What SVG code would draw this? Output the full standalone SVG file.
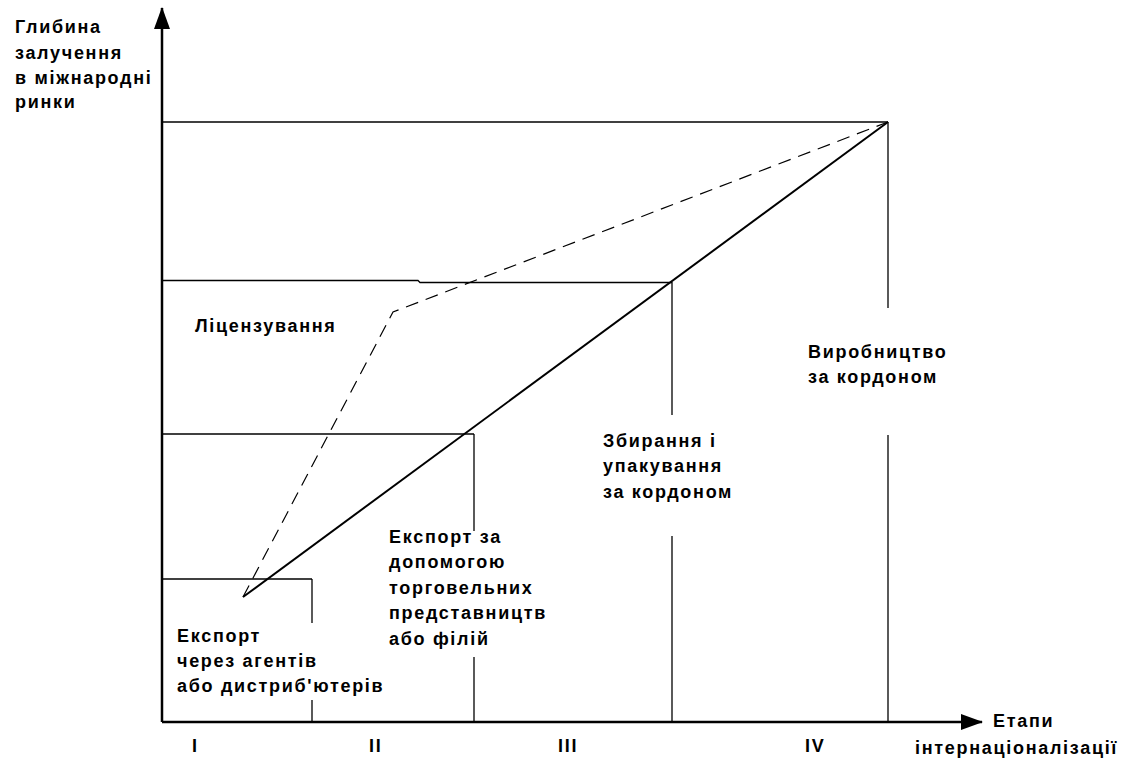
<svg xmlns="http://www.w3.org/2000/svg" width="1140" height="765" viewBox="0 0 1140 765">
<style>
.t{font-family:"Liberation Sans",Arial,sans-serif;font-weight:bold;font-size:18px;letter-spacing:1.7px;fill:#000}
.ln{stroke:#000;stroke-width:1.3;fill:none}
.ax{stroke:#000;stroke-width:2.5;fill:none}
.diag{stroke:#000;stroke-width:2;fill:none}
.dash{stroke:#000;stroke-width:1.2;fill:none;stroke-dasharray:13 8}
</style>
<defs>
<marker id="arrB" markerWidth="22" markerHeight="16" refX="21" refY="8" orient="auto" markerUnits="userSpaceOnUse" viewBox="0 0 22 16">
<path d="M0,0 L22,8 L0,16 Z" fill="#000"/>
</marker>
</defs>
<rect width="1140" height="765" fill="#fff"/>
<g id="connectors">
<line class="ax" x1="162" y1="722" x2="162" y2="8" marker-end="url(#arrB)"/>
<line class="ax" x1="162" y1="722" x2="982" y2="722" marker-end="url(#arrB)"/>
<line class="ln" x1="162" y1="122" x2="888" y2="122"/>
<polyline class="ln" points="162,280.5 418,280.5 420,282.5 672,282.5"/>
<line class="ln" x1="162" y1="434" x2="474" y2="434"/>
<line class="ln" x1="162" y1="579" x2="312" y2="579"/>
<line class="ln" x1="312" y1="579" x2="312" y2="623"/>
<line class="ln" x1="312" y1="700" x2="312" y2="722"/>
<line class="ln" x1="474" y1="434" x2="474" y2="531"/>
<line class="ln" x1="474" y1="657" x2="474" y2="722"/>
<line class="ln" x1="672" y1="282" x2="672" y2="415"/>
<line class="ln" x1="672" y1="536" x2="672" y2="722"/>
<line class="ln" x1="888" y1="122" x2="888" y2="308"/>
<line class="ln" x1="888" y1="435" x2="888" y2="722"/>
<line class="diag" x1="243" y1="597" x2="888" y2="122"/>
<polyline class="dash" points="243,597 393,312 888,122"/>
</g>
<g id="y-axis-label">
<text class="t" x="15" y="33">Глибина</text>
<text class="t" x="15" y="59">залучення</text>
<text class="t" x="15" y="84">в міжнародні</text>
<text class="t" x="15" y="108">ринки</text>
</g>
<g id="x-axis-label">
<text class="t" x="993" y="727">Етапи</text>
<text class="t" x="915" y="754">інтернаціоналізації</text>
</g>
<g id="stage-I">
<text class="t" x="192" y="752">I</text>
<text class="t" x="177" y="642">Експорт</text>
<text class="t" x="177" y="667">через агентів</text>
<text class="t" x="177" y="692">або дистриб'ютерів</text>
</g>
<g id="licensing">
<text class="t" x="195" y="332">Ліцензування</text>
</g>
<g id="stage-II">
<text class="t" x="369" y="752">II</text>
<text class="t" x="389" y="543">Експорт за</text>
<text class="t" x="389" y="568">допомогою</text>
<text class="t" x="389" y="594">торговельних</text>
<text class="t" x="389" y="619">представництв</text>
<text class="t" x="389" y="645">або філій</text>
</g>
<g id="stage-III">
<text class="t" x="558" y="752">III</text>
<text class="t" x="603" y="447">Збирання і</text>
<text class="t" x="603" y="472">упакування</text>
<text class="t" x="603" y="498">за кордоном</text>
</g>
<g id="stage-IV">
<text class="t" x="805" y="752">IV</text>
<text class="t" x="808" y="358">Виробництво</text>
<text class="t" x="808" y="383">за кордоном</text>
</g>
</svg>
